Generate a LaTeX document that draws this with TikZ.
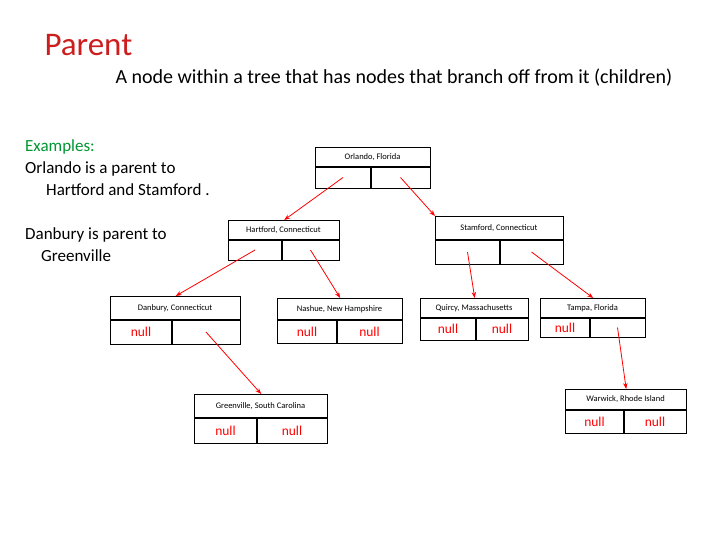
\documentclass[tikz,border=0pt]{standalone}
\usepackage{fontspec}
\setmainfont{Carlito}
\usetikzlibrary{arrows.meta}
\definecolor{titlered}{RGB}{204,30,30}
\definecolor{exgreen}{RGB}{0,150,50}
\tikzset{
  tbox/.style={draw,line width=1.4pt,inner sep=0pt,anchor=north west},
  tlabel/.style={font=\fontsize{8.5}{9}\selectfont,inner sep=1pt},
  tnull/.style={font=\fontsize{13.5}{14}\selectfont,text=red,inner sep=1pt},
  child/.style={-{Stealth[length=6pt]},red,line width=0.8pt}
}
% box: name, x1, y1, x2, y2, ydivider, xdivider, label, left
\newcommand{\treebox}[9]{%
  \node[tbox,minimum width=#4-#2,minimum height=#5-#3] (#1) at (#2,#3) {};
  \draw[line width=1.2pt] (#2,#6) -- (#4,#6);
  \draw[line width=1.2pt] (#7,#6) -- (#7,#5);
  \node[tlabel] (#1-t) at ({(#2+#4)/2},{(#3+#6)/2}) {#8};
  \coordinate (#1-l) at ({(#2+#7)/2},{(#6+#5)/2});
  \coordinate (#1-r) at ({(#7+#4)/2},{(#6+#5)/2});
  \node[tnull] at (#1-l) {#9};
}
\begin{document}
\begin{tikzpicture}[x=1pt,y=-1pt]
\useasboundingbox (0,0) rectangle (720,540);
\node[anchor=west,text=titlered,font=\fontsize{33}{35}\selectfont] (title) at (41,45) {Parent};
\node[anchor=west,font=\fontsize{20}{22}\selectfont] (sub) at (112,78) {A node within a tree that has nodes that branch off from it (children)};
\node[anchor=north west,align=left,font=\fontsize{17}{22}\selectfont,inner sep=0pt] (ex) at (25,139)
  {\textcolor{exgreen}{Examples:}\\Orlando is a parent to\\\hspace*{21pt}Hartford and Stamford .\\[22pt]Danbury is  parent to\\\hspace*{16pt}Greenville};
\treebox{orl}{315}{147}{430}{188}{167}{371}{Orlando, Florida}{}
\treebox{har}{228}{220}{339}{260}{240}{282}{Hartford, Connecticut}{}
\treebox{sta}{435}{216}{563}{264}{240}{500}{Stamford, Connecticut}{}
\treebox{dan}{110}{296}{240}{344}{320}{172}{Danbury, Connecticut}{null}
\treebox{nas}{277}{298}{402}{343}{320}{337}{Nashue, New Hampshire}{null}
\treebox{qui}{420}{298}{528}{340}{318}{476}{Quircy, Massachusetts}{null}
\treebox{tam}{540}{298}{645}{337}{318}{590}{Tampa, Florida}{null}
\treebox{gre}{194}{394}{327}{443}{418}{257}{Greenville, South Carolina}{null}
\treebox{war}{565}{389}{686}{433}{410}{624}{Warwick, Rhode Island}{null}
\foreach \b in {nas,qui,gre,war}
  \node[tnull] at (\b-r) {null};
% children
\draw[child] (orl-l) -- (har.north);
\draw[child] (orl-r) -- (sta.north west);
\draw[child] (har-l) -- (dan.north);
\draw[child] (har-r) -- (nas.north);
\draw[child] (sta-l) -- (qui.north);
\draw[child] (sta-r) -- (tam.north);
\draw[child] (dan-r) -- (gre.north);
\draw[child] (tam-r) -- (war.north);
\end{tikzpicture}
\end{document}
